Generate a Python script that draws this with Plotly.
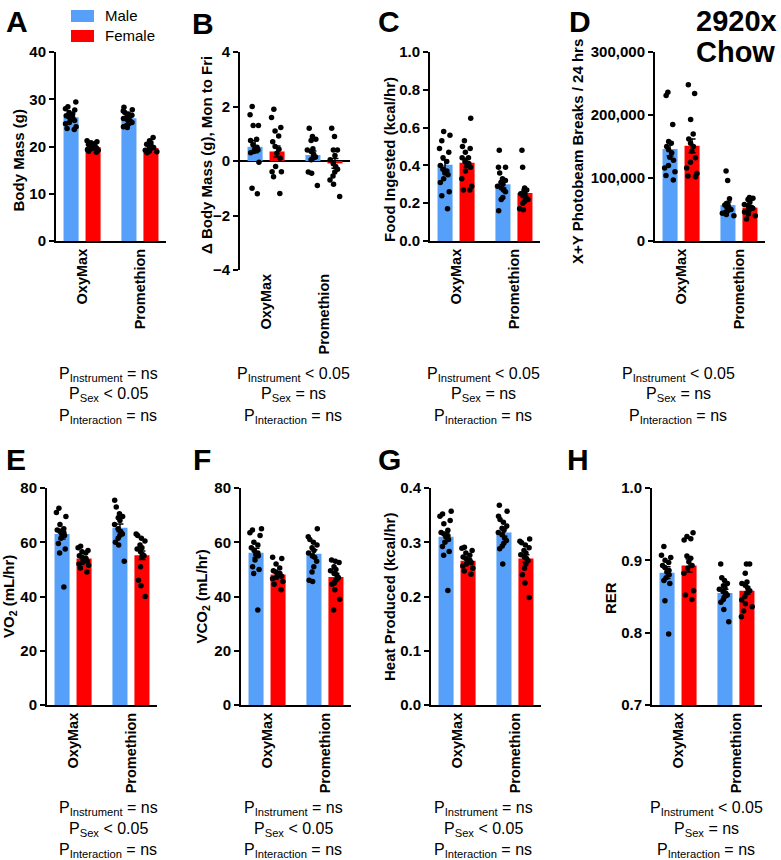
import plotly.graph_objects as go

W, H = 781, 860
groups = ["OxyMax", "Promethion"]
BLUE = "#56A0F9"
RED = "#FF0000"
FONT = "Liberation Sans, Arial, sans-serif"

# ---------------- data ----------------
# A: Body Mass (g)
A_m_oxy = [29.4, 28.4, 28.0, 27.7, 27.2, 26.9, 26.5, 26.3, 26.0, 25.8, 25.5, 25.1, 24.8, 24.2, 23.8, 23.6]
A_m_pro = [28.3, 27.8, 27.5, 27.2, 26.9, 26.6, 26.3, 26.1, 25.9, 25.7, 25.4, 25.1, 24.8, 24.5, 24.2, 24.0]
A_f_oxy = [21.2, 21.0, 20.8, 20.6, 20.4, 20.2, 20.0, 19.8, 19.7, 19.5, 19.3, 19.2, 19.0, 18.8]
A_f_pro = [21.9, 21.2, 20.8, 20.5, 20.2, 20.0, 19.8, 19.6, 19.4, 19.2, 19.0, 18.9, 18.7]
A_mean_m, A_mean_f = [26.2, 26.0], [19.9, 19.7]
A_sem_m, A_sem_f = [0.4, 0.3], [0.2, 0.25]

# B: Delta Body Mass (g), Mon to Fri
B_m_oxy = [2.0, 1.7, 1.3, 1.3, 0.8, 0.75, 0.6, 0.5, 0.45, 0.4, 0.35, 0.3, -0.05, -1.0, -1.2]
B_m_pro = [1.2, 0.9, 0.8, 0.75, 0.45, 0.4, 0.35, 0.25, 0.15, 0.1, 0.05, -0.4, -0.45, -0.9]
B_f_oxy = [1.9, 1.6, 1.23, 1.1, 0.92, 0.71, 0.53, 0.43, 0.28, 0.1, -0.2, -0.39, -0.39, -0.58, -1.19]
B_f_pro = [1.2, 0.9, 0.4, 0.4, 0.2, 0.05, -0.1, -0.2, -0.3, -0.4, -0.55, -0.7, -0.85, -1.3]
B_mean_m, B_mean_f = [0.52, 0.22], [0.35, -0.09]
B_sem_m, B_sem_f = [0.22, 0.15], [0.2, 0.18]

# C: Food Ingested (kcal/hr)
C_m_oxy = [0.58, 0.56, 0.53, 0.49, 0.47, 0.44, 0.42, 0.40, 0.38, 0.37, 0.36, 0.35, 0.33, 0.31, 0.26, 0.24, 0.17]
C_m_pro = [0.48, 0.39, 0.39, 0.36, 0.33, 0.32, 0.31, 0.30, 0.29, 0.28, 0.27, 0.26, 0.23, 0.22, 0.16]
C_f_oxy = [0.65, 0.53, 0.50, 0.49, 0.47, 0.44, 0.44, 0.42, 0.41, 0.40, 0.39, 0.37, 0.33, 0.29, 0.27, 0.27]
C_f_pro = [0.48, 0.39, 0.28, 0.27, 0.26, 0.25, 0.25, 0.24, 0.23, 0.22, 0.21, 0.20, 0.17, 0.165]
C_mean_m, C_mean_f = [0.403, 0.30], [0.414, 0.254]
C_sem_m, C_sem_f = [0.026, 0.02], [0.024, 0.02]

# D: X+Y Photobeam Breaks / 24 hrs
D_m_oxy = [236000, 231000, 185000, 158000, 155000, 150000, 145000, 140000, 133000, 128000, 120000, 116000, 110000, 104000, 97000]
D_m_pro = [111000, 96000, 67000, 60000, 58000, 57000, 55000, 53000, 50000, 48000, 46000, 44000, 42000, 40000]
D_f_oxy = [248000, 234000, 193000, 170000, 162000, 155000, 150000, 143000, 132000, 125000, 116000, 107000, 103000, 102000]
D_f_pro = [69000, 68000, 66000, 62000, 58000, 56000, 54000, 52000, 50000, 48000, 46000, 43000, 40000, 35000]
D_mean_m, D_mean_f = [146000, 57000], [151000, 53000]
D_sem_m, D_sem_f = [11000, 5000], [11000, 3000]

# E: VO2 (mL/hr)
E_m_oxy = [72.5, 71, 69.5, 66.5, 65, 64.5, 64, 63.5, 63, 62.5, 61.5, 59.5, 57.5, 56, 43.5]
E_m_pro = [75.5, 73, 70.5, 69.5, 69, 68, 66.5, 65, 64, 63, 62.5, 61.5, 60, 59, 53]
E_f_oxy = [58.5, 58, 57, 56.5, 56, 55, 54.5, 54, 53.5, 53, 52.5, 52, 51.5, 50.5, 49]
E_f_pro = [63, 62.5, 61.5, 60.5, 59, 58, 57.5, 56.5, 55.5, 55, 54.5, 51, 46, 44, 40]
E_mean_m, E_mean_f = [63.0, 65.3], [54.0, 55.2]
E_sem_m, E_sem_f = [1.8, 1.4], [0.6, 1.6]

# F: VCO2 (mL/hr)
F_m_oxy = [65, 64.5, 63.5, 62.5, 60, 59, 58, 57, 56, 55.5, 55, 53.5, 51, 50, 48.5, 35]
F_m_pro = [65, 62, 61, 60, 59, 58, 57, 56, 55, 54.5, 53, 51, 49, 46, 45.5]
F_f_oxy = [54.5, 54, 52, 50.5, 49.5, 49, 48.5, 48, 47.5, 47, 46.5, 45.5, 44.5, 42.5]
F_f_pro = [53.5, 53, 52.5, 51, 50, 49.5, 48.5, 48, 47, 46, 45, 44.5, 42.5, 39, 35]
F_mean_m, F_mean_f = [56.1, 55.8], [48.1, 47.2]
F_sem_m, F_sem_f = [1.7, 1.4], [0.8, 1.3]

# G: Heat Produced (kcal/hr)
G_m_oxy = [0.357, 0.352, 0.348, 0.34, 0.334, 0.322, 0.318, 0.315, 0.312, 0.31, 0.305, 0.3, 0.292, 0.283, 0.276, 0.211]
G_m_pro = [0.368, 0.357, 0.348, 0.342, 0.337, 0.33, 0.326, 0.322, 0.318, 0.314, 0.308, 0.303, 0.298, 0.293, 0.288, 0.26]
G_f_oxy = [0.291, 0.289, 0.285, 0.28, 0.276, 0.273, 0.27, 0.267, 0.265, 0.262, 0.26, 0.256, 0.252, 0.247, 0.241]
G_f_pro = [0.306, 0.302, 0.299, 0.295, 0.29, 0.285, 0.28, 0.277, 0.273, 0.27, 0.266, 0.26, 0.252, 0.24, 0.225, 0.198]
G_mean_m, G_mean_f = [0.310, 0.318], [0.266, 0.270]
G_sem_m, G_sem_f = [0.008, 0.007], [0.004, 0.007]

# H: RER
H_m_oxy = [0.919, 0.907, 0.904, 0.9, 0.897, 0.893, 0.89, 0.886, 0.884, 0.88, 0.876, 0.872, 0.868, 0.844, 0.798]
H_m_pro = [0.895, 0.876, 0.872, 0.868, 0.865, 0.862, 0.86, 0.857, 0.855, 0.852, 0.85, 0.846, 0.842, 0.832, 0.815]
H_f_oxy = [0.938, 0.933, 0.93, 0.928, 0.906, 0.903, 0.898, 0.893, 0.889, 0.882, 0.858, 0.852, 0.846]
H_f_pro = [0.895, 0.895, 0.882, 0.87, 0.868, 0.866, 0.862, 0.858, 0.855, 0.85, 0.845, 0.84, 0.836, 0.83, 0.822]
H_mean_m, H_mean_f = [0.883, 0.855], [0.893, 0.858]
H_sem_m, H_sem_f = [0.008, 0.005], [0.009, 0.005]

# statistics text
P_A = ["= ns", "&lt; 0.05", "= ns"]
P_B = ["&lt; 0.05", "= ns", "= ns"]
P_C = ["&lt; 0.05", "= ns", "= ns"]
P_D = ["&lt; 0.05", "= ns", "= ns"]
P_E = ["= ns", "&lt; 0.05", "= ns"]
P_F = ["= ns", "&lt; 0.05", "= ns"]
P_G = ["= ns", "&lt; 0.05", "= ns"]
P_H = ["&lt; 0.05", "= ns", "= ns"]
P_NAMES = ["Instrument", "Sex", "Interaction"]

# ---------------- layout of panels (pixel positions) ----------------
TOP_P = [374, 395, 416]
BOT_P = [808, 829, 850]
panels = [
    dict(L="A", x0=56, yt=52, yb=241, rng=[0, 40], dtick=10, fmt="", title="Body Mass (g)", tx=17.5, ty=160,
         lx=17, ly=22, pcx=108, py=TOP_P,
         d=(A_m_oxy, A_m_pro, A_f_oxy, A_f_pro), mm=A_mean_m, mf=A_mean_f, sm=A_sem_m, sf=A_sem_f, p=P_A),
    dict(L="B", x0=240, yt=52, yb=270, rng=[-4, 4], dtick=2, fmt="", title="Δ Body Mass (g), Mon to Fri", tx=206, ty=155,
         lx=203, ly=23, pcx=293, py=TOP_P,
         d=(B_m_oxy, B_m_pro, B_f_oxy, B_f_pro), mm=B_mean_m, mf=B_mean_f, sm=B_sem_m, sf=B_sem_f, p=P_B),
    dict(L="C", x0=430, yt=52, yb=241, rng=[0, 1.0], dtick=0.2, fmt=".1f", title="Food Ingested (kcal/hr)", tx=389, ty=160,
         lx=389, ly=22, pcx=483, py=TOP_P,
         d=(C_m_oxy, C_m_pro, C_f_oxy, C_f_pro), mm=C_mean_m, mf=C_mean_f, sm=C_sem_m, sf=C_sem_f, p=P_C),
    dict(L="D", x0=655, yt=52, yb=241, rng=[0, 300000], dtick=100000, fmt=",", title="X+Y Photobeam Breaks / 24 hrs", tx=577, ty=152,
         lx=580, ly=22, pcx=678, py=TOP_P,
         d=(D_m_oxy, D_m_pro, D_f_oxy, D_f_pro), mm=D_mean_m, mf=D_mean_f, sm=D_sem_m, sf=D_sem_f, p=P_D),
    dict(L="E", x0=47, yt=488, yb=705, rng=[0, 80], dtick=20, fmt="", title="VO<sub>2</sub> (mL/hr)", tx=9, ty=597,
         lx=16, ly=460, pcx=108, py=BOT_P,
         d=(E_m_oxy, E_m_pro, E_f_oxy, E_f_pro), mm=E_mean_m, mf=E_mean_f, sm=E_sem_m, sf=E_sem_f, p=P_E),
    dict(L="F", x0=241, yt=488, yb=705, rng=[0, 80], dtick=20, fmt="", title="VCO<sub>2</sub> (mL/hr)", tx=201.5, ty=597,
         lx=202, ly=460, pcx=293, py=BOT_P,
         d=(F_m_oxy, F_m_pro, F_f_oxy, F_f_pro), mm=F_mean_m, mf=F_mean_f, sm=F_sem_m, sf=F_sem_f, p=P_F),
    dict(L="G", x0=431, yt=488, yb=705, rng=[0, 0.4], dtick=0.1, fmt=".1f", title="Heat Produced (kcal/hr)", tx=389, ty=597,
         lx=389, ly=460, pcx=483, py=BOT_P,
         d=(G_m_oxy, G_m_pro, G_f_oxy, G_f_pro), mm=G_mean_m, mf=G_mean_f, sm=G_sem_m, sf=G_sem_f, p=P_G),
    dict(L="H", x0=652, yt=488, yb=705, rng=[0.7, 1.0], dtick=0.1, fmt=".1f", title="RER", tx=610, ty=598,
         lx=578, ly=460, pcx=706, py=BOT_P,
         d=(H_m_oxy, H_m_pro, H_f_oxy, H_f_pro), mm=H_mean_m, mf=H_mean_f, sm=H_sem_m, sf=H_sem_f, p=P_H),
]
PANEL_W = 110
BAR_W = 0.26


def fx(p):
    return p / W


def fy(p):
    return 1 - p / H


fig = go.Figure()
layout = dict(
    width=W, height=H, margin=dict(l=0, r=0, t=0, b=0, pad=0, autoexpand=False),
    paper_bgcolor="white", plot_bgcolor="white",
    barmode="group", bargap=0.24, bargroupgap=0.32,
    boxmode="group", boxgap=0.24, boxgroupgap=0.32,
    showlegend=False, font=dict(family=FONT, color="black"),
)
annotations = []
shapes = []

for i, pn in enumerate(panels, start=1):
    xa = "x" if i == 1 else f"x{i}"
    ya = "y" if i == 1 else f"y{i}"
    m_oxy, m_pro, f_oxy, f_pro = pn["d"]
    err = dict(type="data", color="black", thickness=1.5, width=3.5)
    fig.add_trace(go.Bar(x=groups, y=pn["mm"], offsetgroup="m", width=BAR_W,
                         marker=dict(color=BLUE, line=dict(width=0)),
                         error_y=dict(array=pn["sm"], **err), xaxis=xa, yaxis=ya, name="Male"))
    fig.add_trace(go.Bar(x=groups, y=pn["mf"], offsetgroup="f", width=BAR_W,
                         marker=dict(color=RED, line=dict(width=0)),
                         error_y=dict(array=pn["sf"], **err), xaxis=xa, yaxis=ya, name="Female"))
    for vals_o, vals_p, og in ((m_oxy, m_pro, "m"), (f_oxy, f_pro, "f")):
        fig.add_trace(go.Box(
            x=[groups[0]] * len(vals_o) + [groups[1]] * len(vals_p), y=vals_o + vals_p,
            offsetgroup=og, boxpoints="all", jitter=0.9, pointpos=0,
            fillcolor="rgba(0,0,0,0)", line=dict(width=0, color="rgba(0,0,0,0)"),
            marker=dict(color="black", size=5.5, line=dict(width=0)),
            xaxis=xa, yaxis=ya, hoveron="points"))

    is_b = pn["L"] == "B"
    layout["xaxis" if i == 1 else f"xaxis{i}"] = dict(
        domain=[fx(pn["x0"]), fx(pn["x0"] + PANEL_W)], anchor=ya, type="category",
        range=[-0.45, 1.45], showline=not is_b, linecolor="black", linewidth=2,
        ticks="", tickangle=-90, showgrid=False, zeroline=False, automargin=False,
        tickfont=dict(family=FONT, size=14.5, color="black", weight="bold"))
    layout["yaxis" if i == 1 else f"yaxis{i}"] = dict(
        domain=[fy(pn["yb"]), fy(pn["yt"])], anchor=xa, range=pn["rng"], dtick=pn["dtick"],
        tick0=pn["rng"][0], tickformat=pn["fmt"], showline=True, linecolor="black", linewidth=2,
        ticks="outside", ticklen=5, tickwidth=2, tickcolor="black", showgrid=False, automargin=False,
        zeroline=is_b, zerolinecolor="black", zerolinewidth=2,
        tickfont=dict(family=FONT, size=15, color="black", weight="bold"))

    annotations.append(dict(text=f"<b>{pn['title']}</b>", x=fx(pn["tx"]), y=fy(pn["ty"]), xref="paper", yref="paper",
                            textangle=-90, showarrow=False, xanchor="center", yanchor="middle",
                            font=dict(family=FONT, size=15, color="black")))
    annotations.append(dict(text=f"<b>{pn['L']}</b>", x=fx(pn["lx"]), y=fy(pn["ly"]), xref="paper", yref="paper",
                            showarrow=False, xanchor="center", yanchor="middle",
                            font=dict(family=FONT, size=30, color="black")))
    for name, val, yy in zip(P_NAMES, pn["p"], pn["py"]):
        annotations.append(dict(text=f"P<sub>{name}</sub> {val}", x=fx(pn["pcx"]), y=fy(yy), xref="paper", yref="paper",
                                showarrow=False, xanchor="center", yanchor="middle",
                                font=dict(family=FONT, size=16, color="black")))

# title
annotations.append(dict(text="<b>2920x</b>", x=fx(736), y=fy(21), xref="paper", yref="paper", showarrow=False,
                        xanchor="center", yanchor="middle", font=dict(family=FONT, size=29, color="black")))
annotations.append(dict(text="<b>Chow</b>", x=fx(735), y=fy(52), xref="paper", yref="paper", showarrow=False,
                        xanchor="center", yanchor="middle", font=dict(family=FONT, size=29, color="black")))
# legend
for label, col, yc in (("Male", BLUE, 16), ("Female", RED, 36)):
    shapes.append(dict(type="rect", xref="paper", yref="paper", x0=fx(71), x1=fx(94), y0=fy(yc + 6), y1=fy(yc - 6),
                       fillcolor=col, line=dict(width=0)))
    annotations.append(dict(text=label, x=fx(103), y=fy(yc), xref="paper", yref="paper", showarrow=False,
                            xanchor="left", yanchor="middle", font=dict(family=FONT, size=15, color="black")))

layout["annotations"] = annotations
layout["shapes"] = shapes
fig.update_layout(**layout)
fig.write_html("out.html", config={"displayModeBar": False, "staticPlot": True},
               post_script="document.body.style.margin='0';document.body.style.padding='0';"
                           "document.body.style.overflow='hidden';")
